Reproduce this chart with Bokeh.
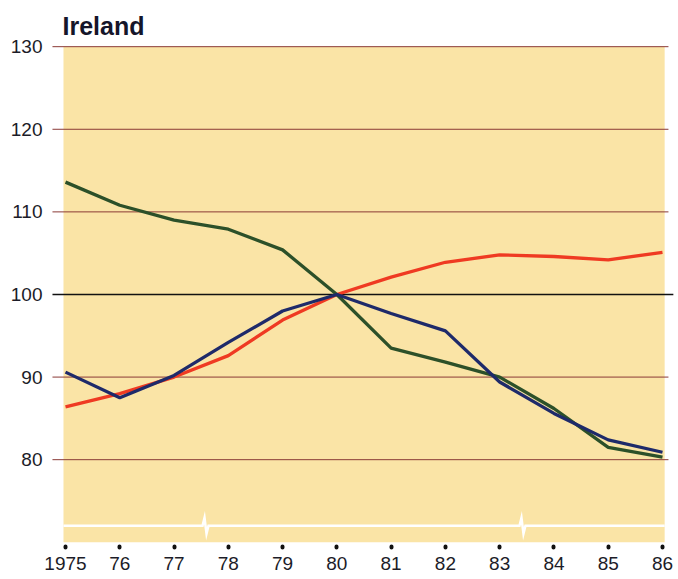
from bokeh.plotting import figure
from bokeh.models import Range1d, FixedTicker, Label
from bokeh.embed import file_html
from bokeh.resources import INLINE

# ---- data ----
years = [1975, 1976, 1977, 1978, 1979, 1980, 1981, 1982, 1983, 1984, 1985, 1986]
year_labels = ["1975", "76", "77", "78", "79", "80", "81", "82", "83", "84", "85", "86"]
series_red = [86.4, 88.0, 90.0, 92.6, 96.9, 100.0, 102.1, 103.9, 104.8, 104.6, 104.2, 105.1]
series_blue = [90.6, 87.5, 90.2, 94.2, 98.0, 100.0, 97.7, 95.6, 89.4, 85.6, 82.4, 80.9]
series_green = [113.6, 110.8, 109.0, 107.9, 105.4, 100.0, 93.5, 91.8, 90.0, 86.2, 81.5, 80.3]
y_ticks = [80, 90, 100, 110, 120, 130]
grid_values = [80, 90, 110, 120, 130]
base_value = 100
title_text = "Ireland"

# ---- styling ----
BG = "#fae4a6"
GRID = "#8a3a36"
RED = "#ef3a22"
BLUE = "#1e2a6a"
GREEN = "#2c5029"
TXT = "#1c1c28"

p = figure(width=678, height=579, output_backend="svg", toolbar_location=None,
           title=None,
           x_range=Range1d(1974.65, 1986.295), y_range=Range1d(69.49, 135.59),
           min_border_left=46, min_border_right=0, min_border_top=0, min_border_bottom=33)
p.background_fill_color = "white"
p.border_fill_color = "white"
p.outline_line_color = None
p.xgrid.visible = False
p.ygrid.visible = False

# panel fill
x_lo, x_hi = years[0] - 0.037, years[-1] + 0.04
p.quad(left=[x_lo], right=[x_hi], bottom=[70], top=[130], fill_color=BG, line_color=None)

# horizontal rules
g_lo, g_hi = years[0] - 0.24, years[-1] + 0.11
p.segment(x0=[g_lo] * len(grid_values), x1=[g_hi] * len(grid_values),
          y0=grid_values, y1=grid_values, line_color=GRID, line_width=1)
p.segment(x0=[g_lo], x1=[1986.2], y0=[base_value], y1=[base_value], line_color="#111111", line_width=1.6)

# white break line with two break marks
wy = 72.0
dx = 1 / 54.27
dy = 1 / 8.26
b1, b2 = 1977.58, 1983.42
xs = [x_lo, b1 - 3 * dx, b1 - 1 * dx, b1 + 1 * dx, b1 + 3 * dx,
      b2 - 3 * dx, b2 - 1 * dx, b2 + 1 * dx, b2 + 3 * dx, x_hi]
ys = [wy, wy, wy + 8 * dy, wy - 8 * dy, wy,
      wy, wy + 8 * dy, wy - 8 * dy, wy, wy]
p.line(xs, ys, line_color="white", line_width=2.5, line_join="miter")

# series
p.line(years, series_red, line_color=RED, line_width=3.3)
p.line(years, series_green, line_color=GREEN, line_width=3.3)
p.line(years, series_blue, line_color=BLUE, line_width=3.3)

# title
p.add_layout(Label(x=1974.945, y=132.5, text=title_text, text_font="Liberation Sans",
                   text_font_size="25px", text_font_style="bold", text_color="#15152a",
                   text_baseline="alphabetic", text_align="left"))

# axes
p.yaxis.ticker = FixedTicker(ticks=y_ticks)
p.yaxis.axis_line_color = None
p.yaxis.major_tick_line_color = None
p.yaxis.minor_tick_line_color = None
p.yaxis.major_tick_out = 0
p.yaxis.major_tick_in = 0
p.yaxis.major_label_standoff = 4
p.yaxis.major_label_text_font = "Liberation Sans"
p.yaxis.major_label_text_font_size = "19px"
p.yaxis.major_label_text_color = TXT

p.xaxis.ticker = FixedTicker(ticks=years)
p.xaxis.major_label_overrides = {y: l for y, l in zip(years, year_labels)}
p.xaxis.axis_line_color = None
p.xaxis.minor_tick_line_color = None
p.xaxis.major_tick_line_color = "#111111"
p.xaxis.major_tick_line_width = 4
p.xaxis.major_tick_line_cap = "round"
p.xaxis.major_tick_out = 1
p.xaxis.major_tick_in = 0
p.xaxis.major_label_standoff = 9
p.xaxis.major_label_text_font = "Liberation Sans"
p.xaxis.major_label_text_font_size = "19px"
p.xaxis.major_label_text_color = TXT

open("out.html", "w").write(file_html(p, INLINE))
